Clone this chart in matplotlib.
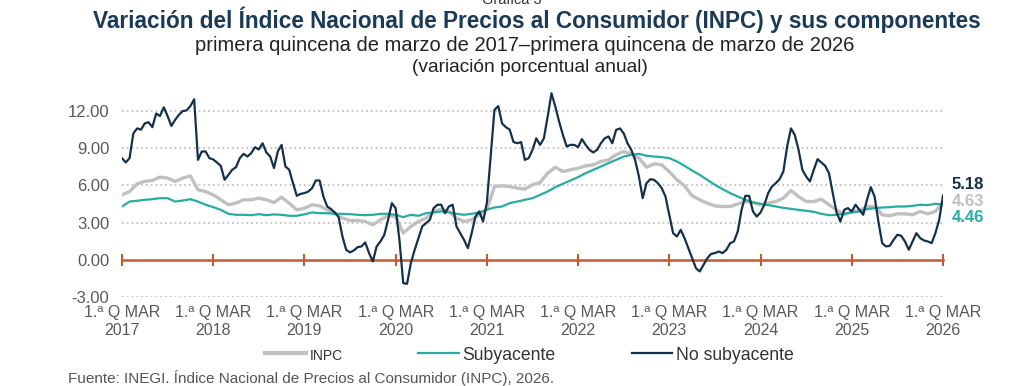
import numpy as np
import matplotlib.pyplot as plt

plt.rcParams['font.family'] = ['Liberation Sans', 'DejaVu Sans']

anios = list(range(2017, 2027))
etiquetas_x = ['1.ª Q MAR\n%d' % a for a in anios]
valores_y = [-3, 0, 3, 6, 9, 12]

# No subyacente: quincenal, 1a Q mar 2017 ... 1a Q mar 2026
no_subyacente = [
    8.2, 7.85, 8.2, 10.2, 10.6, 10.5, 11.0, 11.1, 10.7, 11.8, 11.6, 12.3,
    11.6, 10.8, 11.3, 11.7, 12.0, 12.05, 12.4, 12.95, 8.06, 8.74, 8.74, 8.2,
    8.1, 7.85, 7.58, 6.45, 6.85, 7.26, 7.47, 8.2, 8.55, 8.33, 8.6, 9.08,
    8.9, 9.4, 8.65, 8.33, 7.4, 8.74, 9.27, 7.53, 7.26, 6.18, 5.16, 5.32,
    5.38, 5.5, 5.78, 6.4, 6.4, 5.1, 4.3, 4.09, 3.82, 3.44, 1.88, 0.8,
    0.6, 0.75, 1.02, 1.08, 1.4, 0.54, -0.13, 1.08, 1.48, 2.0, 3.2, 4.57,
    4.17, 1.6, -1.88, -1.94, -0.27, 0.8, 1.75, 2.69, 2.96, 3.23, 4.17, 4.44,
    4.44, 3.76, 4.3, 4.44, 2.69, 2.15, 1.6, 0.94, 2.15, 3.49, 3.9, 3.09,
    4.6, 8.3, 12.1, 12.4, 11.0, 10.7, 10.5, 9.5, 9.4, 9.5, 8.06, 8.2,
    8.87, 9.8, 9.27, 9.8, 11.56, 13.44, 12.37, 11.16, 10.08, 9.14, 9.27, 9.27,
    9.09, 9.73, 9.27, 8.87, 8.66, 8.87, 9.4, 9.8, 9.95, 9.4, 10.48, 10.6,
    10.2, 9.4, 8.87, 8.06, 6.72, 4.97, 6.18, 6.5, 6.45, 6.18, 5.78, 5.1,
    3.6, 2.15, 1.88, 2.42, 1.75, 0.94, 0.13, -0.67, -0.94, -0.4, 0.13, 0.48,
    0.54, 0.67, 0.54, 0.8, 1.34, 1.48, 2.28, 4.03, 5.16, 5.16, 3.9, 3.49,
    3.82, 4.44, 5.38, 5.91, 6.18, 6.5, 7.12, 9.14, 10.6, 10.08, 8.87, 7.26,
    6.72, 6.32, 7.26, 8.12, 7.85, 7.58, 6.99, 5.38, 3.82, 3.09, 4.03, 4.17,
    3.9, 4.44, 4.03, 3.63, 4.84, 5.86, 5.1, 3.09, 1.34, 1.08, 1.13, 1.61,
    2.02, 1.94, 1.48, 0.81, 1.48, 2.15, 1.75, 1.56, 1.48, 1.34, 2.15, 3.23,
    5.18,
]

# INPC y subyacente: 1a Q de cada mes, mar 2017 ... mar 2026
inpc = [
    5.24, 5.5, 6.13, 6.32, 6.4, 6.67, 6.59, 6.32, 6.59, 6.77, 5.65, 5.5,
    5.24, 4.84, 4.44, 4.57, 4.84, 4.84, 4.97, 4.84, 4.62, 5.05, 4.57, 4.03,
    4.15, 4.44, 4.35, 4.03, 3.76, 3.36, 3.17, 3.17, 3.09, 2.82, 3.23, 3.55,
    3.49, 2.15, 2.69, 3.09, 3.36, 3.9, 4.09, 3.9, 3.36, 3.09, 3.23, 3.63,
    4.05, 5.91, 5.97, 5.91, 5.78, 5.7, 6.05, 6.24, 6.99, 7.47, 7.12, 7.26,
    7.39, 7.58, 7.66, 7.93, 8.06, 8.47, 8.74, 8.55, 8.2, 7.47, 7.74, 7.66,
    7.1, 6.45, 5.97, 5.16, 4.84, 4.57, 4.35, 4.3, 4.3, 4.5, 4.7, 4.62,
    4.44, 4.57, 4.7, 4.97, 5.59, 5.1, 4.7, 4.7, 4.89, 4.44, 4.03, 3.63,
    3.9, 3.98, 4.3, 4.3, 3.63, 3.55, 3.71, 3.71, 3.63, 3.9, 3.71, 3.9,
    4.63,
]

subyacente = [
    4.3, 4.7, 4.76, 4.84, 4.89, 4.97, 4.97, 4.7, 4.78, 4.89, 4.7, 4.44,
    4.25, 4.03, 3.71, 3.63, 3.63, 3.6, 3.68, 3.6, 3.66, 3.63, 3.55, 3.55,
    3.67, 3.82, 3.76, 3.76, 3.71, 3.71, 3.68, 3.63, 3.6, 3.63, 3.71, 3.71,
    3.63, 3.44, 3.63, 3.55, 3.76, 3.82, 3.9, 3.82, 3.71, 3.63, 3.71, 3.82,
    4.05, 4.22, 4.3, 4.57, 4.7, 4.84, 4.97, 5.24, 5.51, 5.86, 6.13, 6.4,
    6.67, 6.99, 7.26, 7.53, 7.8, 8.06, 8.33, 8.47, 8.55, 8.39, 8.33, 8.28,
    8.2, 7.93, 7.58, 7.2, 6.85, 6.45, 6.05, 5.7, 5.38, 5.1, 4.84, 4.62,
    4.52, 4.41, 4.3, 4.19, 4.11, 4.03, 3.95, 3.87, 3.71, 3.6, 3.63, 3.71,
    3.82, 3.9, 4.09, 4.17, 4.22, 4.25, 4.3, 4.3, 4.35, 4.44, 4.41, 4.52,
    4.46,
]

C_NOSUB = '#15304a'
C_INPC = '#c0c0c0'
C_SUB = '#27aca3'
C_CERO = '#c55a31'

x_q = anios[0] + np.arange(len(no_subyacente)) / 24
x_m = anios[0] + np.arange(len(inpc)) / 12

fig = plt.figure(figsize=(10.24, 3.86), dpi=100)
ax = fig.add_axes([0.1191, 0.2306, 0.8018, 0.562])

l1, = ax.plot(x_m, inpc, color=C_INPC, lw=2.4, zorder=3)
l2, = ax.plot(x_m, subyacente, color=C_SUB, lw=1.6, zorder=4)
l3, = ax.plot(x_q, no_subyacente, color=C_NOSUB, lw=1.6, zorder=5)

ax.set_xlim(anios[0], anios[-1])
ax.set_ylim(-3, 14.5)
for s in ax.spines.values():
    s.set_visible(False)

ax.set_yticks(valores_y)
ax.set_yticklabels(['%.2f' % v for v in valores_y])
ax.set_xticks(anios)
ax.set_xticklabels(etiquetas_x)
ax.tick_params(axis='y', length=0, pad=9, labelsize=12, labelcolor='#595959')
ax.tick_params(axis='x', length=0, pad=6, labelsize=11.5, labelcolor='#595959')
# rejilla punteada (sin la del cero, que es la linea naranja)
ax.hlines([v for v in valores_y if v != 0], anios[0], anios[-1],
          colors='#c4c4c4', linestyles=':', lw=1.3, zorder=1)

# linea del cero con marcas anuales
y0, y1 = ax.get_ylim()
sec = ax.secondary_xaxis((0 - y0) / (y1 - y0))
sec.set_xticks(anios)
sec.set_xticklabels([])
sec.tick_params(direction='inout', length=9, width=1.5, color=C_CERO)
for s in sec.spines.values():
    s.set_color(C_CERO)
    s.set_linewidth(1.8)

# valores finales
for serie, xs, col, dy in [(no_subyacente, x_q, C_NOSUB, 8),
                           (inpc, x_m, C_INPC, 1),
                           (subyacente, x_m, C_SUB, -9)]:
    ax.annotate('%.2f' % serie[-1], xy=(xs[-1], serie[-1]), xytext=(6.5, dy),
                textcoords='offset points', ha='left', va='center',
                fontsize=12, fontweight='bold', color=col)

leg = fig.legend([l1, l2, l3], ['INPC', 'Subyacente', 'No subyacente'],
                 loc='center', bbox_to_anchor=(0.517, 0.08), ncol=3, frameon=False,
                 handlelength=2.3, handletextpad=0.2, columnspacing=4.3, fontsize=12.7)
for t in leg.get_texts():
    t.set_color('#333333')
leg.get_texts()[0].set_fontsize(10)
leg.get_lines()[0].set_linewidth(3)

# encabezado "Gráfica 3", recortado por el borde superior como en el original
fig.text(0.5, 1.0, 'Gráfica 3', ha='center', va='center', fontsize=10.5, color='#333333')
fig.text(0.524, 0.950,
         'Variación del Índice Nacional de Precios al Consumidor (INPC) y sus componentes',
         ha='center', va='center', fontsize=16.3, fontweight='bold', color='#1b3a57')
fig.text(0.512, 0.883, 'primera quincena de marzo de 2017–primera quincena de marzo de 2026',
         ha='center', va='center', fontsize=14.5, color='#222222')
fig.text(0.518, 0.826, '(variación porcentual anual)',
         ha='center', va='center', fontsize=13.8, color='#222222')
fig.text(68 / 1024, 0.021,
         'Fuente: INEGI. Índice Nacional de Precios al Consumidor (INPC), 2026.',
         ha='left', va='center', fontsize=11, color='#555555')

fig.savefig('out.png', dpi=100)
